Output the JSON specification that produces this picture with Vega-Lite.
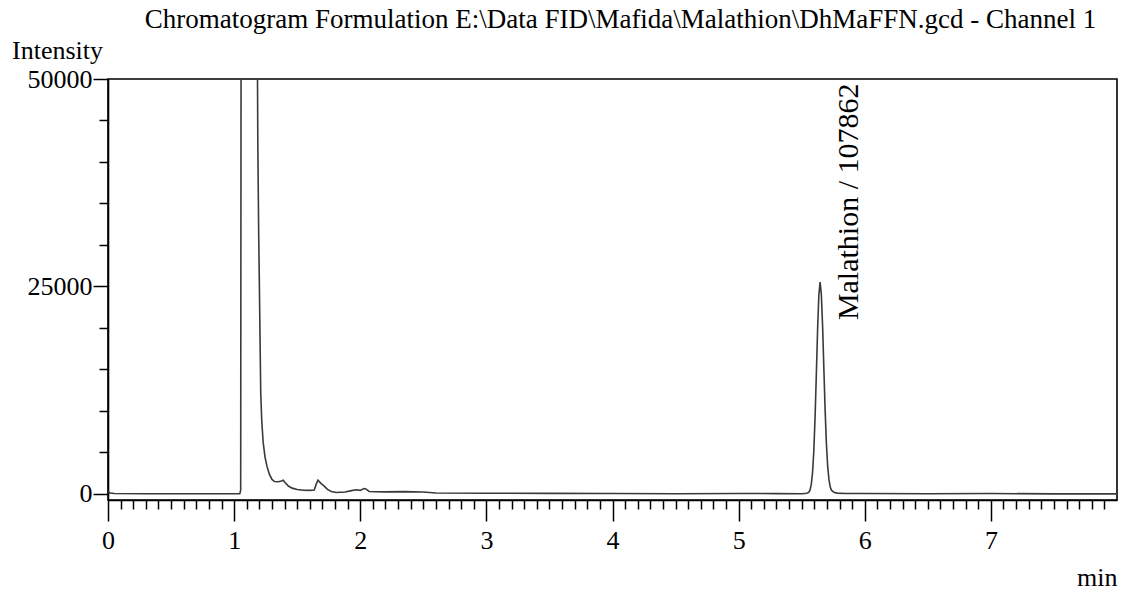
{
  "$schema": "https://vega.github.io/schema/vega-lite/v6.json",
  "width": 1009,
  "height": 421,
  "autosize": "none",
  "padding": {"left": 108, "top": 79, "right": 11, "bottom": 91},
  "background": "white",
  "title": {
    "text": "Chromatogram Formulation E:\\Data FID\\Mafida\\Malathion\\DhMaFFN.gcd - Channel 1",
    "font": "Liberation Serif",
    "fontSize": 27,
    "fontWeight": "normal",
    "color": "black",
    "anchor": "middle",
    "dx": 8,
    "offset": 3
  },
  "config": {
    "view": {"stroke": "black", "strokeWidth": 1.6},
    "axis": {
      "labelFont": "Liberation Serif",
      "titleFont": "Liberation Serif",
      "labelColor": "black",
      "titleColor": "black",
      "tickColor": "black",
      "domainColor": "black",
      "labelFontSize": 26,
      "titleFontSize": 26,
      "titleFontWeight": "normal",
      "grid": false,
      "tickWidth": 1.5,
      "domainWidth": 1.6
    }
  },
  "datasets": {
    "trace": [
      {"time": 0, "intensity": 300},
      {"time": 0.015, "intensity": 60},
      {"time": 0.05, "intensity": 0},
      {"time": 0.3, "intensity": -20},
      {"time": 0.6, "intensity": -30},
      {"time": 0.9, "intensity": -30},
      {"time": 1.045, "intensity": -10},
      {"time": 1.052, "intensity": 400},
      {"time": 1.056, "intensity": 70000},
      {"time": 1.12, "intensity": 300000},
      {"time": 1.182, "intensity": 60000},
      {"time": 1.188, "intensity": 42000},
      {"time": 1.195, "intensity": 31000},
      {"time": 1.2, "intensity": 25500},
      {"time": 1.206, "intensity": 18000},
      {"time": 1.211, "intensity": 12100},
      {"time": 1.219, "intensity": 8800},
      {"time": 1.23, "intensity": 6200},
      {"time": 1.245, "intensity": 4400},
      {"time": 1.26, "intensity": 3300},
      {"time": 1.28, "intensity": 2300},
      {"time": 1.3, "intensity": 1700},
      {"time": 1.32, "intensity": 1450},
      {"time": 1.35, "intensity": 1420},
      {"time": 1.375, "intensity": 1500},
      {"time": 1.39, "intensity": 1600},
      {"time": 1.405, "intensity": 1300},
      {"time": 1.43, "intensity": 900},
      {"time": 1.46, "intensity": 650},
      {"time": 1.5, "intensity": 480},
      {"time": 1.55, "intensity": 400},
      {"time": 1.6, "intensity": 380},
      {"time": 1.635, "intensity": 420},
      {"time": 1.65, "intensity": 1100},
      {"time": 1.665, "intensity": 1600},
      {"time": 1.69, "intensity": 1200},
      {"time": 1.71, "intensity": 950},
      {"time": 1.74, "intensity": 500},
      {"time": 1.77, "intensity": 250},
      {"time": 1.81, "intensity": 120},
      {"time": 1.88, "intensity": 180},
      {"time": 1.93, "intensity": 350},
      {"time": 1.97, "intensity": 450},
      {"time": 2.0, "intensity": 380},
      {"time": 2.03, "intensity": 600},
      {"time": 2.045, "intensity": 550},
      {"time": 2.07, "intensity": 250},
      {"time": 2.12, "intensity": 220},
      {"time": 2.2, "intensity": 200},
      {"time": 2.35, "intensity": 230},
      {"time": 2.5, "intensity": 180},
      {"time": 2.6, "intensity": 60},
      {"time": 3.0, "intensity": 40},
      {"time": 3.5, "intensity": 20},
      {"time": 4.0, "intensity": 0},
      {"time": 4.5, "intensity": -20},
      {"time": 5.0, "intensity": 10},
      {"time": 5.3, "intensity": -10},
      {"time": 5.5, "intensity": -20},
      {"time": 5.54, "intensity": 30},
      {"time": 5.556, "intensity": 130},
      {"time": 5.566, "intensity": 400},
      {"time": 5.576, "intensity": 1100},
      {"time": 5.586, "intensity": 2500},
      {"time": 5.596, "intensity": 5100},
      {"time": 5.606, "intensity": 9100},
      {"time": 5.616, "intensity": 14300},
      {"time": 5.626, "intensity": 19700},
      {"time": 5.636, "intensity": 23900},
      {"time": 5.646, "intensity": 25500},
      {"time": 5.656, "intensity": 24000},
      {"time": 5.666, "intensity": 20100},
      {"time": 5.676, "intensity": 15000},
      {"time": 5.686, "intensity": 10000},
      {"time": 5.696, "intensity": 6000},
      {"time": 5.706, "intensity": 3300},
      {"time": 5.716, "intensity": 1700},
      {"time": 5.726, "intensity": 800},
      {"time": 5.736, "intensity": 400},
      {"time": 5.756, "intensity": 150},
      {"time": 5.78, "intensity": 50},
      {"time": 5.85, "intensity": 10},
      {"time": 6.0, "intensity": 0},
      {"time": 6.5, "intensity": -30},
      {"time": 7.0, "intensity": 0},
      {"time": 7.5, "intensity": -40},
      {"time": 8.0, "intensity": -40}
    ],
    "peaks": [
      {"time": 5.646, "intensity": 25500, "label": "Malathion / 107862"}
    ]
  },
  "layer": [
    {
      "data": {"name": "trace"},
      "mark": {"type": "line", "clip": true, "color": "#3a3a3a", "strokeWidth": 1.6},
      "encoding": {
        "x": {
          "field": "time",
          "type": "quantitative",
          "scale": {"domain": [0, 8], "nice": false, "zero": false},
          "axis": {
            "title": "min",
            "titleAngle": 0,
            "titleAlign": "right",
            "titleBaseline": "alphabetic",
            "titleX": 1009,
            "titleY": 85,
            "tickCount": 200,
            "tickMinStep": 0.1,
            "values": [0,0.1,0.2,0.3,0.4,0.5,0.6,0.7,0.8,0.9,1,1.1,1.2,1.3,1.4,1.5,1.6,1.7,1.8,1.9,2,2.1,2.2,2.3,2.4,2.5,2.6,2.7,2.8,2.9,3,3.1,3.2,3.3,3.4,3.5,3.6,3.7,3.8,3.9,4,4.1,4.2,4.3,4.4,4.5,4.6,4.7,4.8,4.9,5,5.1,5.2,5.3,5.4,5.5,5.6,5.7,5.8,5.9,6,6.1,6.2,6.3,6.4,6.5,6.6,6.7,6.8,6.9,7,7.1,7.2,7.3,7.4,7.5,7.6,7.7,7.8,7.9],
            "labelExpr": "datum.value % 1 === 0 ? format(datum.value, '.0f') : ''",
            "labelFlush": false,
            "labelOverlap": false,
            "tickSize": {"condition": {"test": "datum.value % 1 === 0", "value": 21}, "value": 9},
            "labelPadding": 6
          }
        },
        "y": {
          "field": "intensity",
          "type": "quantitative",
          "scale": {"domain": [-780, 50000], "nice": false, "zero": false},
          "axis": {
            "title": "Intensity",
            "titleAngle": 0,
            "titleAlign": "center",
            "titleBaseline": "alphabetic",
            "titleX": -51,
            "titleY": -21,
            "tickCount": 100,
            "values": [0,5000,10000,15000,20000,25000,30000,35000,40000,45000,50000],
            "labelExpr": "datum.value % 25000 === 0 ? format(datum.value, 'd') : ''",
            "labelFlush": false,
            "labelOverlap": false,
            "tickSize": {"condition": {"test": "datum.value % 25000 === 0", "value": 15}, "value": 9},
            "labelPadding": 1
          }
        }
      }
    },
    {
      "data": {"name": "peaks"},
      "mark": {
        "type": "text",
        "angle": 270,
        "align": "left",
        "baseline": "alphabetic",
        "dx": -38,
        "dy": 38,
        "font": "Liberation Serif",
        "fontSize": 30,
        "color": "black"
      },
      "encoding": {
        "x": {"field": "time", "type": "quantitative"},
        "y": {"field": "intensity", "type": "quantitative"},
        "text": {"field": "label"}
      }
    }
  ]
}
